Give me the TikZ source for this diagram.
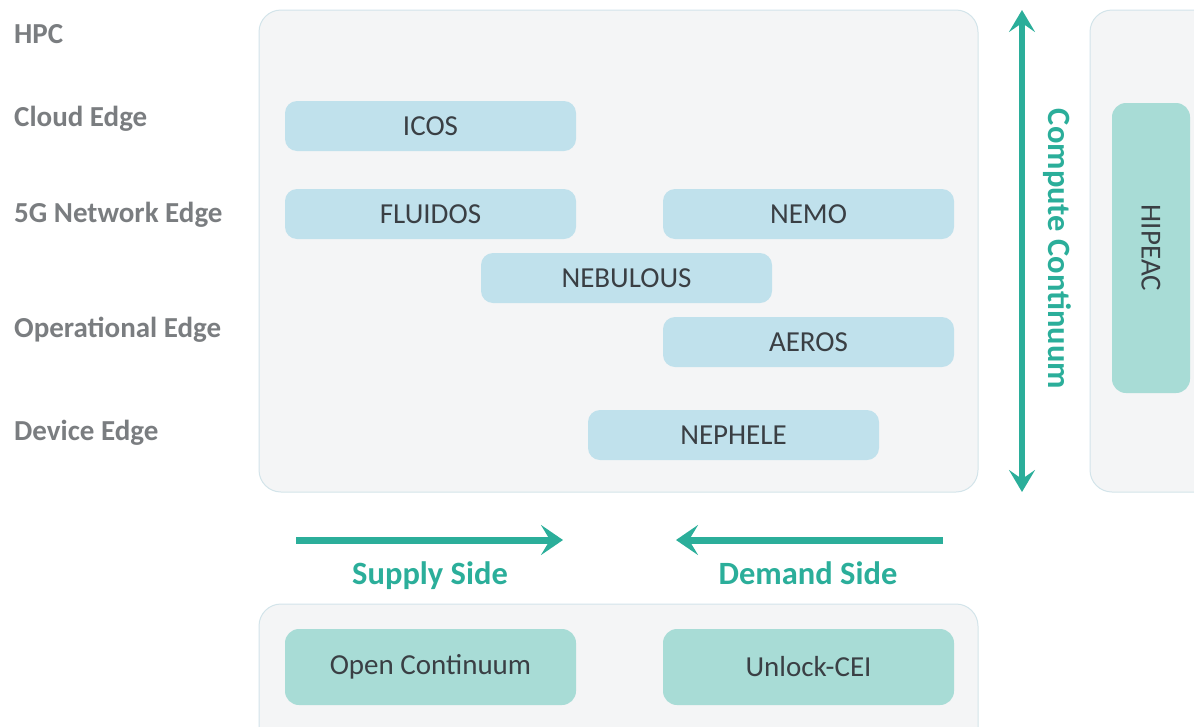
\documentclass[tikz,border=0pt]{standalone}
\usepackage{fontspec}
\setmainfont{Carlito}
\usetikzlibrary{arrows.meta}
\definecolor{panelfill}{HTML}{F4F5F6}
\definecolor{panelline}{HTML}{D3E4EA}
\definecolor{bluebox}{HTML}{C0E1EC}
\definecolor{tealbox}{HTML}{A8DCD6}
\definecolor{teal}{HTML}{2BAE9A}
\definecolor{labgray}{HTML}{7A7D80}
\definecolor{txt}{HTML}{3A3F44}
\tikzset{
  panel/.style={draw=panelline, line width=1pt, fill=panelfill, rounded corners=22pt},
  proj/.style={fill=bluebox, rounded corners=12pt, minimum width=291pt, minimum height=50pt, text=txt, font=\fontsize{29}{29}\selectfont, inner sep=0pt},
  init/.style={fill=tealbox, rounded corners=14pt, minimum width=291pt, minimum height=76pt, text=txt, font=\fontsize{29}{29}\selectfont, inner sep=0pt},
  level/.style={anchor=west, text=labgray, font=\bfseries\fontsize{29}{29}\selectfont, inner sep=0pt},
  side/.style={text=teal, font=\bfseries\fontsize{32.5}{32.5}\selectfont, inner sep=0pt},
  flow/.style={draw=teal, line width=7pt, -{Stealth[length=22pt, width=30pt, inset=9pt]}},
  flowboth/.style={draw=teal, line width=6pt, {Stealth[length=22pt, width=26pt, inset=9pt]}-{Stealth[length=22pt, width=26pt, inset=9pt]}}
}
\begin{document}
\begin{tikzpicture}[x=1pt,y=-1pt]
\useasboundingbox (0,0) rectangle (1194,726);
% panels
\draw[panel] (259,10) rectangle (978,492);
\draw[panel] (1090,10) rectangle (1230,492);
\draw[panel] (259,604) rectangle (978,760);
% level labels
\node[level] (hpc) at (14,34) {HPC};
\node[level] (cloud) at (14,119) {Cloud Edge};
\node[level] (net) at (14,215) {5G Network Edge};
\node[level] (oper) at (14,330) {Operational Edge};
\node[level] (dev) at (14,433) {Device Edge};
% projects
\node[proj] (icos) at (430.5,126) {ICOS};
\node[proj] (fluidos) at (430.5,214) {FLUIDOS};
\node[proj] (nemo) at (808.5,214) {NEMO};
\node[proj] (nebulous) at (626.5,278) {NEBULOUS};
\node[proj] (aeros) at (808.5,342) {AEROS};
\node[proj] (nephele) at (733.5,435) {NEPHELE};
% HIPEAC
\node[fill=tealbox, rounded corners=14pt, minimum width=290pt, minimum height=78pt, text=txt, font=\fontsize{29}{29}\selectfont, inner sep=0pt, rotate=-90] (hipeac) at (1151,248) {HIPEAC};
% compute continuum
\coordinate (cctop) at (1022,10);
\coordinate (ccbot) at (1022,492);
\draw[flowboth] (ccbot) -- (cctop);
\node[side, rotate=-90] (cc) at (1057,249) {Compute Continuum};
% supply / demand
\coordinate (sup1) at (296,540);
\coordinate (sup2) at (563,540);
\coordinate (dem1) at (943,540);
\coordinate (dem2) at (676,540);
\draw[flow] (sup1) -- (sup2);
\draw[flow] (dem1) -- (dem2);
\node[side, anchor=base] (supply) at (430,584) {Supply Side};
\node[side, anchor=base] (demand) at (808,584) {Demand Side};
% initiatives
\node[init] (oc) at (430.5,667) {Open Continuum};
\node[init] (ul) at (808.5,667) {Unlock-CEI};
\end{tikzpicture}
\end{document}
